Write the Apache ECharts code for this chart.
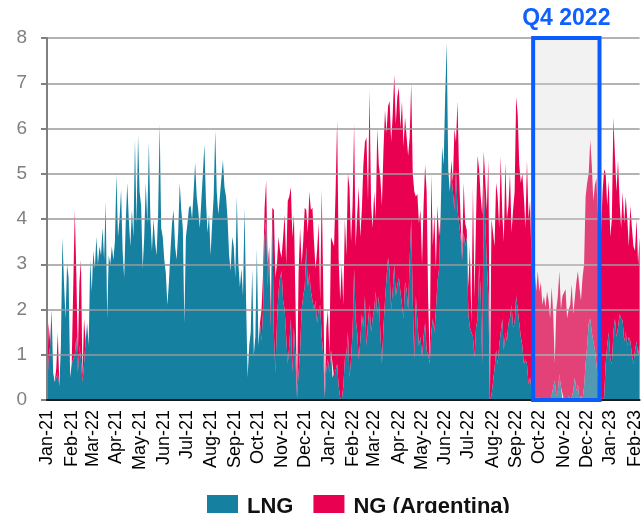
<!DOCTYPE html>
<html>
<head>
<meta charset="utf-8">
<script src="https://cdn.jsdelivr.net/npm/echarts@6/dist/echarts.min.js"></script>
<style>
html,body{margin:0;padding:0;background:#fff;}
#c{width:644px;height:513px;}
</style>
</head>
<body>
<div id="c"></div>
<script>
// Tick labels (as printed on the original, including its "Mar-22" for March 2021)
const monthLabels = ['Jan-21','Feb-21','Mar-22','Apr-21','May-21','Jun-21','Jul-21','Aug-21','Sep-21','Oct-21','Nov-21','Dec-21',
  'Jan-22','Feb-22','Mar-22','Apr-22','May-22','Jun-22','Jul-22','Aug-22','Sep-22','Oct-22','Nov-22','Dec-22','Jan-23','Feb-23'];
const yTicks = [0,1,2,3,4,5,6,7,8];
const startDate = '2021-01-01';   // first observation, one value every 2 days
const stepDays = 2;
const seriesNames = ['LNG','NG (Argentina)'];
const q4Label = 'Q4 2022';
const q4Range = ['2022-09-23','2022-12-18'];

// LNG values, every 2 days (grouped by month)
const lng = [
  0.1,0.9,1.2,2.0,0.6,0.4,0.5,0.6,0.3,1.2,3.6,2.6,1.8,3.0,2.7,0.5,
  0.8,0.9,1.0,1.4,0.6,1.2,0.9,0.4,0.8,1.3,1.7,1.2,3.1,2.4,
  3.3,2.9,3.6,3.0,3.4,3.2,3.8,3.1,4.4,1.8,3.2,3.0,3.4,3.1,3.5,
  5.0,3.6,4.0,4.65,3.3,2.7,3.9,4.8,4.0,3.4,4.2,3.6,5.75,3.9,5.85,
  4.6,4.3,2.9,3.6,4.8,3.9,5.7,4.0,3.3,4.0,3.5,3.2,4.1,6.1,3.8,3.6,
  3.1,2.8,2.1,2.6,3.3,3.9,4.2,3.4,3.1,3.7,4.8,4.2,3.8,1.7,3.6,
  3.9,4.25,4.3,4.0,4.6,5.25,4.5,4.2,3.8,4.4,5.0,5.65,4.4,3.7,4.1,
  3.2,3.9,4.5,5.95,4.6,4.1,4.5,4.9,5.3,4.7,4.5,4.0,3.2,2.85,3.6,3.4,
  2.7,4.5,3.0,2.5,2.9,2.3,4.25,2.2,0.5,1.2,1.5,2.9,1.0,1.4,3.35,
  1.2,1.7,1.3,2.0,3.6,4.0,2.5,3.4,1.6,4.0,1.5,0.6,1.7,2.4,2.7,
  2.85,2.2,2.0,1.4,0.8,1.2,1.8,0.6,1.6,0.9,0.05,0.6,1.1,2.0,2.3,
  2.5,3.4,2.5,2.8,2.4,2.2,2.0,2.2,1.7,2.0,2.1,1.4,1.0,0.05,0.7,0.9,
  0.6,1.1,0.5,0.5,0.65,0.8,0.3,0.05,0.0,0.3,0.9,1.0,1.5,0.5,0.9,
  1.5,2.9,1.8,1.5,0.9,1.3,1.9,1.6,2.3,1.2,1.7,2.1,1.5,1.8,
  2.0,2.4,1.9,2.3,1.5,0.8,1.6,2.2,2.7,3.15,2.85,2.0,2.4,3.0,2.3,2.55,
  2.7,2.4,2.1,1.8,2.6,2.45,2.0,3.1,4.0,2.2,0.9,2.3,1.75,1.2,1.4,
  0.95,1.4,1.7,1.1,1.0,0.8,1.5,1.8,1.5,2.0,2.6,2.9,4.0,5.6,5.2,
  6.7,7.9,5.1,4.6,5.0,4.6,4.2,5.1,4.2,3.9,3.6,3.1,3.7,3.4,3.6,
  1.9,1.6,1.5,1.4,0.95,1.6,1.8,3.0,2.4,0.8,4.85,3.9,3.0,2.3,0.0,0.1,
  0.4,0.7,1.1,0.8,1.2,1.5,1.8,1.1,1.5,1.3,1.7,1.8,2.1,1.6,1.7,
  2.3,2.0,1.7,1.4,1.2,0.8,0.9,0.8,0.35,0.5,0.2,0.1,0.0,0.0,0.06,
  0,0,0,0,0,0,0,0,0.1,0.28,0.43,0.1,0.2,0.57,0.3,0,
  0,0,0,0.1,0,0.06,0.2,0.5,0.2,0.35,0,0.1,0,0.3,0.8,
  1.2,1.7,1.8,1.5,1.3,1.1,0.8,0.5,0.1,0.06,0,0.06,0.8,1.2,1.5,
  0.9,0.8,1.5,1.8,1.4,1.6,1.9,1.8,1.75,1.3,1.5,1.2,1.4,1.3,1.0,0.8,
  1.1,1.3,1.0,1.2
];

// NG (Argentina) values, every 2 days (grouped by month)
const ng = [
  0.1,0.8,0.1,0,0,0,0.2,0.9,0,0,0,0,0,0,0,0,
  0,1.6,3.2,1.4,0.4,1.4,2.2,0.1,1.0,0,0,0,0,0,
  0,0,0,0,0,0,0,0,0,0,0,0,0,0,0,
  0,0,0,0,0,0,0,0,0,0,0,0,0,0,0,
  0,0,0,0,0,0,0,0,0,0,0,0,0,0,0,0,
  0,0,0,0,0,0,0,0,0,0,0,0,0,0,0,
  0,0,0,0,0,0,0,0,0,0,0,0,0,0,0,
  0,0,0,0,0,0,0,0,0,0,0,0,0,0,0,0,
  0,0,0,0,0,0,0,0,0,0,0,0,0,0,0,
  0,0,0.7,0.8,0.65,0.85,0.5,0,0.4,0.25,2.7,2.1,1.3,1.2,0.6,
  0.3,1.4,2.1,1.6,3.6,3.3,2.9,3.0,2.5,1.3,0.05,2.2,2.7,1.0,1.2,
  1.75,0.8,1.2,1.8,1.8,2.05,1.5,0.7,1.6,1.9,0.1,3.25,1.5,0.05,0.9,1.1,
  0.4,2.5,3.0,2.9,3.95,5.4,2.8,2.15,3.0,1.8,3.1,2.2,3.5,4.2,2.6,
  2.8,3.2,1.6,2.6,3.8,2.3,2.3,3.6,3.4,4.6,2.7,4.75,2.8,2.0,
  2.6,1.6,4.1,2.9,3.4,3.5,3.9,4.2,3.2,3.35,3.75,3.7,3.9,4.2,3.8,4.15,
  4.2,3.6,4.5,3.8,3.65,3.8,3.4,2.7,3.0,2.8,3.7,2.2,2.8,2.7,2.8,
  2.05,2.9,3.5,3.5,1.2,0,3.5,1.6,2.6,0.9,1.7,0.7,0,0,0,
  0,0,0,0,0.3,0.2,1.8,0.6,2.4,1.1,0.4,0.1,1.1,0.5,0.15,
  0.6,1.8,0.2,3.3,1.3,2.4,3.6,2.1,2.1,3.3,0.65,0.95,1.2,3.0,0,3.9,
  3.6,2.7,3.7,3.7,2.6,3.9,2.3,2.4,3.75,2.7,2.6,3.2,1.6,2.6,2.9,
  4.4,4.3,3.5,3.4,3.8,3.7,2.9,4.5,3.65,3.9,2.8,2.5,2.85,2.4,2.79,
  2.4,2.6,2.1,2.3,2.05,2.4,2.2,1.8,2.4,1.62,0.37,1.9,2.1,2.28,1.7,2.3,
  2.3,2.45,1.8,1.9,2.1,2.49,1.7,1.75,2.4,2.5,2.5,2.1,2.7,2.7,3.7,
  3.6,3.3,3.95,3.7,3.1,3.65,4.1,3.5,0.3,3.64,4.6,5.04,4.2,3.1,3.35,
  2.7,3.2,4.75,3.6,3.2,3.7,2.5,2.0,2.85,2.6,3.0,2.8,2.0,3.0,2.8,2.6,
  2.2,2.7,2.0,2.4
];

// ---- build categories (dates) ----
function pad(n){return (n<10?'0':'')+n;}
const cats = [];
{
  const t0 = Date.parse(startDate + 'T00:00:00Z');
  for (let i = 0; i < lng.length; i++) {
    const d = new Date(t0 + i * stepDays * 86400000);
    cats.push(d.getUTCFullYear() + '-' + pad(d.getUTCMonth()+1) + '-' + pad(d.getUTCDate()));
  }
}
function monthIndex(s){ return (parseInt(s.slice(0,4),10)-2021)*12 + parseInt(s.slice(5,7),10)-1; }

const FONT = "'Liberation Sans', Arial, sans-serif";
const chart = echarts.init(document.getElementById('c'), null, {renderer:'canvas'});

chart.setOption({
  animation: false,
  backgroundColor: '#ffffff',
  grid: {left: 47, right: 0, top: 38, bottom: 113, containLabel: false},
  legend: {
    data: seriesNames,
    left: 202, top: 490,
    icon: 'rect', itemWidth: 31, itemHeight: 23, itemGap: 20,
    textStyle: {fontFamily: FONT, fontSize: 22, fontWeight: 'bold', color: '#111', padding: [0,0,0,4]}
  },
  xAxis: {
    type: 'category', data: cats, boundaryGap: false, z: 4,
    axisLine: {lineStyle: {color: '#1a1a1a', width: 2}},
    axisTick: {show: false},
    splitLine: {show: false},
    axisLabel: {
      rotate: 90, margin: 10, color: '#000', fontSize: 18, fontFamily: FONT,
      interval: function(idx, val){ return parseInt(val.slice(8,10),10) <= 2; },
      formatter: function(val){ return monthLabels[monthIndex(val)] || ''; }
    }
  },
  yAxis: {
    type: 'value', min: yTicks[0], max: yTicks[yTicks.length-1], interval: 1, z: 3,
    axisLine: {show: true, lineStyle: {color: '#808080', width: 2}},
    axisTick: {show: true, length: 6, lineStyle: {color: '#808080', width: 2}},
    splitLine: {lineStyle: {color: '#9a9a9a', width: 1.5}},
    axisLabel: {color: '#808080', fontSize: 19, fontFamily: FONT, margin: 20}
  },
  series: [
    {name: seriesNames[0], type: 'line', stack: 'total', data: lng, symbol: 'none',
     lineStyle: {width: 0}, areaStyle: {color: '#1680a1', opacity: 1}, itemStyle: {color: '#1680a1'}, z: 2},
    {name: seriesNames[1], type: 'line', stack: 'total', data: ng, symbol: 'none',
     lineStyle: {width: 0}, areaStyle: {color: '#ea0050', opacity: 1}, itemStyle: {color: '#ea0050'}, z: 2}
  ]
});

// Q4 2022 highlight box, positioned through the chart's own scales
const i0 = cats.indexOf(q4Range[0]);
const i1 = cats.indexOf(q4Range[1]);
const pTL = chart.convertToPixel({gridIndex: 0}, [i0, yTicks[yTicks.length-1]]);
const pBR = chart.convertToPixel({gridIndex: 0}, [i1, yTicks[0]]);
chart.setOption({
  graphic: [
    {type: 'rect', z: 100, silent: true,
     shape: {x: pTL[0], y: pTL[1], width: pBR[0]-pTL[0], height: pBR[1]-pTL[1]},
     style: {fill: 'rgba(213,213,213,0.31)', stroke: '#0a5cff', lineWidth: 4}},
    {type: 'text', z: 100, silent: true,
     x: (pTL[0]+pBR[0])/2, y: pTL[1]-8,
     style: {text: q4Label, fill: '#1060ff', font: "bold 23px " + FONT, align: 'center', verticalAlign: 'bottom'}}
  ]
});
</script>
</body>
</html>
